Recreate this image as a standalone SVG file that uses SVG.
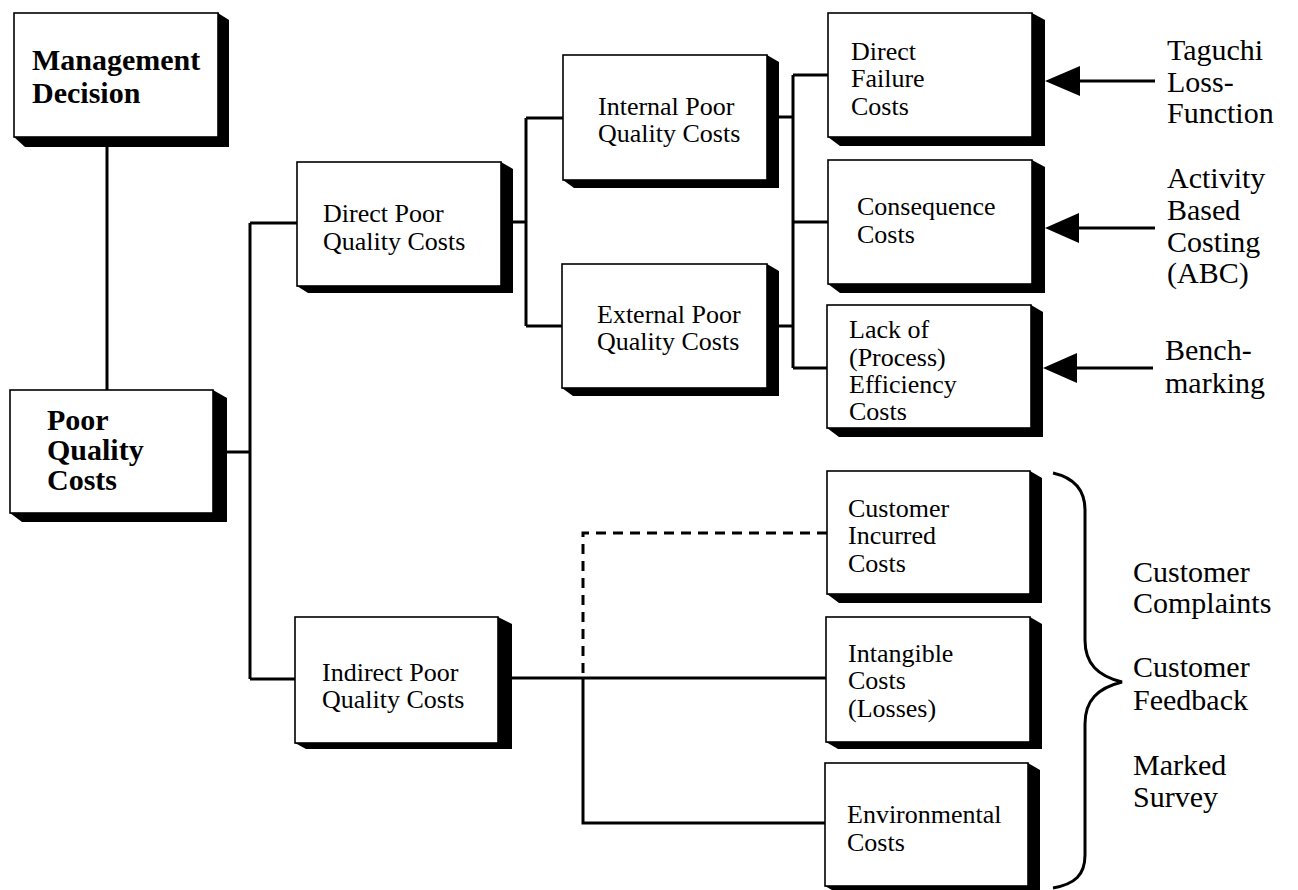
<svg xmlns="http://www.w3.org/2000/svg" width="1298" height="890" viewBox="0 0 1298 890">
<style>
.bg{fill:#ffffff}
.sh{fill:#000000}
.bx{fill:#ffffff;stroke:#000000;stroke-width:1.6}
.t{font-family:"Liberation Serif","Times New Roman",serif;font-size:26px;fill:#000000}
.tb{font-family:"Liberation Serif","Times New Roman",serif;font-size:30px;font-weight:bold;fill:#000000}
.tl{font-family:"Liberation Serif","Times New Roman",serif;font-size:30px;fill:#000000}
.ln{fill:none;stroke:#000000;stroke-width:3}
.dash{fill:none;stroke:#000000;stroke-width:3;stroke-dasharray:10,7}
.ah{fill:#000000}
</style>
<rect class="bg" x="0" y="0" width="1298" height="890"/>

<g id="connectors">
  <path class="ln" d="M107,147 V390"/>
  <path class="ln" d="M226,452 H250"/>
  <path class="ln" d="M250,223 V679"/>
  <path class="ln" d="M250,223 H297"/>
  <path class="ln" d="M250,679 H295"/>
  <path class="ln" d="M512,222 H526"/>
  <path class="ln" d="M526,118 V326"/>
  <path class="ln" d="M526,118 H563"/>
  <path class="ln" d="M526,326 H562"/>
  <path class="ln" d="M779,117 H793"/>
  <path class="ln" d="M779,326 H793"/>
  <path class="ln" d="M793,75 V368"/>
  <path class="ln" d="M793,75 H828"/>
  <path class="ln" d="M793,222 H828"/>
  <path class="ln" d="M793,368 H827"/>
  <path class="ln" d="M511,678 H826"/>
  <path class="dash" d="M827,533 H583 V678"/>
  <path class="ln" d="M583,678 V823 H825"/>
  <path class="ln" d="M1078,81 H1155"/>
  <polygon class="ah" points="1045,81 1080,66 1080,96"/>
  <path class="ln" d="M1077,228 H1155"/>
  <polygon class="ah" points="1045,228 1079,213 1079,243"/>
  <path class="ln" d="M1075,368 H1153"/>
  <polygon class="ah" points="1043,368 1077,353 1077,383"/>
  <path class="ln" d="M1053,473 C1075,478 1085,490 1085,510 L1085,640 C1085,664 1098,676 1122,682 C1098,688 1085,700 1085,724 L1085,855 C1085,875 1075,884 1053,888"/>
</g>

<g id="management-decision">
  <polygon class="sh" points="218,13 229,20 229,147 25,147 14,137"/>
  <rect class="bx" x="14" y="13" width="204" height="124"/>
  <text class="tb" x="32" y="70">Management</text>
  <text class="tb" x="32" y="103">Decision</text>
</g>

<g id="poor-quality-costs">
  <polygon class="sh" points="213,390 227,398 227,522 22,522 10,513"/>
  <rect class="bx" x="10" y="390" width="203" height="123"/>
  <text class="tb" x="47" y="430">Poor</text>
  <text class="tb" x="47" y="460">Quality</text>
  <text class="tb" x="47" y="490">Costs</text>
</g>

<g id="direct-poor-quality-costs">
  <polygon class="sh" points="501,162 513,169 513,293 308,293 297,286"/>
  <rect class="bx" x="297" y="162" width="204" height="124"/>
  <text class="t" x="323" y="222">Direct Poor</text>
  <text class="t" x="323" y="250">Quality Costs</text>
</g>

<g id="indirect-poor-quality-costs">
  <polygon class="sh" points="498,617 512,624 512,749 306,749 295,743"/>
  <rect class="bx" x="295" y="617" width="203" height="126"/>
  <text class="t" x="322" y="681">Indirect Poor</text>
  <text class="t" x="322" y="708">Quality Costs</text>
</g>

<g id="internal-poor-quality-costs">
  <polygon class="sh" points="767,55 779,62 779,188 574,188 563,180"/>
  <rect class="bx" x="563" y="55" width="204" height="125"/>
  <text class="t" x="598" y="115">Internal Poor</text>
  <text class="t" x="598" y="142">Quality Costs</text>
</g>

<g id="external-poor-quality-costs">
  <polygon class="sh" points="767,264 779,271 779,396 573,396 562,388"/>
  <rect class="bx" x="562" y="264" width="205" height="124"/>
  <text class="t" x="597" y="323">External Poor</text>
  <text class="t" x="597" y="350">Quality Costs</text>
</g>

<g id="direct-failure-costs">
  <polygon class="sh" points="1032,13 1045,20 1045,146 840,146 828,137"/>
  <rect class="bx" x="828" y="13" width="204" height="124"/>
  <text class="t" x="851" y="60">Direct</text>
  <text class="t" x="851" y="87">Failure</text>
  <text class="t" x="851" y="115">Costs</text>
</g>

<g id="consequence-costs">
  <polygon class="sh" points="1032,160 1045,167 1045,293 840,293 828,284"/>
  <rect class="bx" x="828" y="160" width="204" height="124"/>
  <text class="t" x="857" y="215">Consequence</text>
  <text class="t" x="857" y="243">Costs</text>
</g>

<g id="lack-of-efficiency-costs">
  <polygon class="sh" points="1031,305 1043,312 1043,437 839,437 827,428"/>
  <rect class="bx" x="827" y="305" width="204" height="123"/>
  <text class="t" x="849" y="338">Lack of</text>
  <text class="t" x="849" y="366">(Process)</text>
  <text class="t" x="849" y="393">Efficiency</text>
  <text class="t" x="849" y="420">Costs</text>
</g>

<g id="customer-incurred-costs">
  <polygon class="sh" points="1030,471 1042,478 1042,603 839,603 827,594"/>
  <rect class="bx" x="827" y="471" width="203" height="123"/>
  <text class="t" x="848" y="517">Customer</text>
  <text class="t" x="848" y="544">Incurred</text>
  <text class="t" x="848" y="572">Costs</text>
</g>

<g id="intangible-costs">
  <polygon class="sh" points="1030,617 1042,624 1042,749 838,749 826,742"/>
  <rect class="bx" x="826" y="617" width="204" height="125"/>
  <text class="t" x="848" y="662">Intangible</text>
  <text class="t" x="848" y="689">Costs</text>
  <text class="t" x="848" y="717">(Losses)</text>
</g>

<g id="environmental-costs">
  <polygon class="sh" points="1028,763 1040,770 1040,893 837,893 825,886"/>
  <rect class="bx" x="825" y="763" width="203" height="123"/>
  <text class="t" x="847" y="823">Environmental</text>
  <text class="t" x="847" y="851">Costs</text>
</g>

<g id="taguchi">
  <text class="tl" x="1167" y="60">Taguchi</text>
  <text class="tl" x="1167" y="92">Loss-</text>
  <text class="tl" x="1167" y="123">Function</text>
</g>

<g id="abc">
  <text class="tl" x="1167" y="188">Activity</text>
  <text class="tl" x="1167" y="220">Based</text>
  <text class="tl" x="1167" y="252">Costing</text>
  <text class="tl" x="1167" y="283">(ABC)</text>
</g>

<g id="benchmarking">
  <text class="tl" x="1165" y="360">Bench-</text>
  <text class="tl" x="1165" y="393">marking</text>
</g>

<g id="customer-sources">
  <text class="tl" x="1133" y="582">Customer</text>
  <text class="tl" x="1133" y="613">Complaints</text>
  <text class="tl" x="1133" y="677">Customer</text>
  <text class="tl" x="1133" y="710">Feedback</text>
  <text class="tl" x="1133" y="775">Marked</text>
  <text class="tl" x="1133" y="807">Survey</text>
</g>
</svg>
